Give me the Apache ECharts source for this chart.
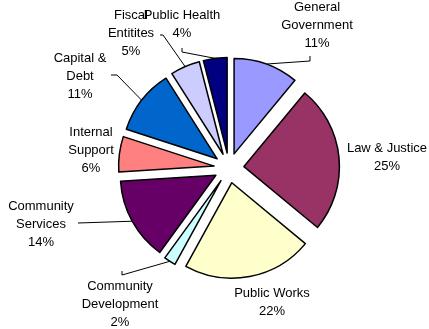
<!DOCTYPE html>
<html>
<head>
<meta charset="utf-8">
<script src="https://cdn.jsdelivr.net/npm/echarts@6/dist/echarts.min.js"></script>
<style>html,body{margin:0;padding:0;background:#fff;}#c{width:429px;height:329px;}</style>
</head>
<body>
<div id="c"></div>
<script>
var categories = ['General\nGovernment', 'Law & Justice', 'Public Works', 'Community\nDevelopment', 'Community\nServices', 'Internal\nSupport', 'Capital &\nDebt', 'Fiscal\nEntitites', 'Public Health'];
var values = [11, 25, 22, 2, 14, 6, 11, 5, 4];
var colors = ['#9999FF', '#993366', '#FFFFCC', '#CCFFFF', '#660066', '#FF8080', '#0066CC', '#CCCCFF', '#000080'];

// layout only: label centres and leader-line bends/ends (null = no leader line)
var labelPos = [[317, 25], [387, 157], [272, 302], [120, 304], [41, 224], [91, 150], [80, 76], [131, 33], [182, 24]];
var leaderPts = [[[310, 61], [310, 56]], null, null, [[122, 275], [122, 271]], [[78, 223]], null, [[117, 75], [111, 75]], [[163, 35], [160, 35]], [[182, 52], [182, 48]]];

var CX = 229, CY = 168, R = 95.5, OFF = 15;
var total = values.reduce(function (a, b) { return a + b; }, 0);

var chart = echarts.init(document.getElementById('c'), null, {renderer: 'canvas'});

var sliceData = categories.map(function (c, i) {
  return {name: c, value: values[i], selected: true, itemStyle: {color: colors[i]}};
});
var labelData = categories.map(function (c, i) {
  return {name: c, value: values[i], labelLine: {show: !!leaderPts[i]}};
});

function arcMid(i) {
  var cum = 0;
  for (var k = 0; k < i; k++) cum += values[k];
  var f = (cum + values[i] / 2) / total * Math.PI * 2;
  var rr = R + OFF;
  return [CX + rr * Math.sin(f), CY - rr * Math.cos(f)];
}

chart.setOption({
  animation: false,
  series: [{
    type: 'pie',
    center: [CX, CY],
    radius: R,
    startAngle: 90,
    clockwise: true,
    selectedMode: 'multiple',
    selectedOffset: OFF,
    silent: true,
    itemStyle: {borderColor: '#000', borderWidth: 1.5},
    emphasis: {disabled: true},
    label: {show: false},
    labelLine: {show: false},
    data: sliceData
  }, {
    type: 'pie',
    center: [CX, CY],
    radius: R + OFF,
    startAngle: 90,
    clockwise: true,
    silent: true,
    avoidLabelOverlap: false,
    percentPrecision: 0,
    itemStyle: {color: 'rgba(0,0,0,0)', borderWidth: 0},
    emphasis: {disabled: true},
    label: {
      show: true,
      position: 'outside',
      formatter: '{b}\n{d}%',
      fontFamily: 'Liberation Sans, Arial, sans-serif',
      fontSize: 13,
      lineHeight: 18,
      color: '#000',
      align: 'center'
    },
    labelLine: {show: true, smooth: false, lineStyle: {color: '#000', width: 1}},
    labelLayout: function (p) {
      var i = p.dataIndex;
      var pos = labelPos[i];
      var res = {x: pos[0], y: pos[1], align: 'center', verticalAlign: 'middle'};
      if (leaderPts[i]) {
        var start = arcMid(i);
        res.labelLinePoints = [start].concat(leaderPts[i].length === 1 ? [leaderPts[i][0], leaderPts[i][0]] : leaderPts[i]);
      }
      return res;
    },
    data: labelData
  }]
});
</script>
</body>
</html>
